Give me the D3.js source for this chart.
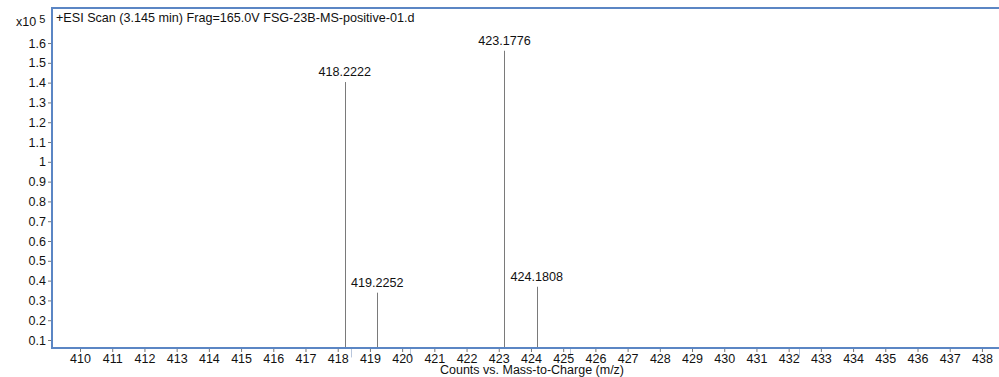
<!DOCTYPE html>
<html>
<head>
<meta charset="utf-8">
<style>
  body { margin: 0; background: #fff; }
  svg text { font-family: "Liberation Sans", Arial, sans-serif; fill: #111; }
</style>
</head>
<body>
<div id="spectrum"></div>
<script src="https://d3js.org/d3.v7.min.js"></script>
<script>
// peak list (m/z, counts in units of 1e5)
var mz = [418.2222, 418.42, 419.2252, 420.23, 423.1776, 424.1808, 425.22, 432.33];
var counts = [1.403, 0.012, 0.339, 0.012, 1.561, 0.369, 0.012, 0.012];
var labelled = ["418.2222", "", "419.2252", "", "423.1776", "424.1808", "", ""];
var xTicks = d3.range(410, 439);
var yTicks = [0.1, 0.2, 0.3, 0.4, 0.5, 0.6, 0.7, 0.8, 0.9, 1, 1.1, 1.2, 1.3, 1.4, 1.5, 1.6];

var width = 999, height = 377;
var plot = {left: 52, top: 8, right: 999, bottom: 348};

var svg = d3.select("#spectrum").append("svg")
    .attr("width", width)
    .attr("height", height);

var x = d3.scaleLinear()
    .domain([409.13, 438.53])
    .range([plot.left, plot.right]);

var y = d3.scaleLinear()
    .domain([0.0596, 1.777])
    .range([plot.bottom, plot.top]);

// sticks
var peaks = mz.map(function(m, i) { return {mz: m, v: counts[i], label: labelled[i]}; });

svg.append("g")
  .selectAll("line")
  .data(peaks)
  .enter().append("line")
    .attr("x1", function(d) { return Math.round(x(d.mz)) + 0.5; })
    .attr("x2", function(d) { return Math.round(x(d.mz)) + 0.5; })
    .attr("y1", y.range()[0])
    .attr("y2", function(d) { return y(d.v); })
    .attr("stroke", function(d) { return d.label ? "#7a7a7a" : "#b8c6dc"; })
    .attr("stroke-width", 1);

svg.append("g")
  .selectAll("text")
  .data(peaks.filter(function(d) { return d.label; }))
  .enter().append("text")
    .attr("x", function(d) { return x(d.mz); })
    .attr("y", function(d) { return y(d.v) - 6; })
    .attr("text-anchor", "middle")
    .style("font-size", "12.6px")
    .text(function(d) { return d.label; });

// axes
var xAxis = svg.append("g")
    .attr("transform", "translate(0," + plot.bottom + ")")
    .call(d3.axisBottom(x).tickValues(xTicks).tickFormat(d3.format("d")).tickSize(4).tickPadding(2));
xAxis.select(".domain").remove();
xAxis.selectAll(".tick line").attr("stroke", "#777");
xAxis.selectAll(".tick text").style("font-size", "12.5px").style("font-family", "Liberation Sans, Arial, sans-serif").attr("fill", "#111");

var yAxis = svg.append("g")
    .attr("transform", "translate(" + plot.left + ",0)")
    .call(d3.axisLeft(y).tickValues(yTicks).tickFormat(d3.format("")).tickSize(4).tickPadding(2));
yAxis.select(".domain").remove();
yAxis.selectAll(".tick line").attr("stroke", "#777");
yAxis.selectAll(".tick text").style("font-size", "12.5px").style("font-family", "Liberation Sans, Arial, sans-serif").attr("fill", "#111");

// frame (left, top, bottom)
svg.append("path")
    .attr("d", "M" + width + "," + plot.top + "H" + plot.left + "V" + plot.bottom + "H" + width)
    .attr("fill", "none")
    .attr("stroke", "#5b86c4")
    .attr("stroke-width", 2);

// titles
svg.append("text")
    .attr("x", plot.left + 4)
    .attr("y", plot.top + 14)
    .style("font-size", "12.6px")
    .text("+ESI Scan (3.145 min) Frag=165.0V FSG-23B-MS-positive-01.d");

var mult = svg.append("text")
    .attr("x", 16)
    .attr("y", 26)
    .style("font-size", "12.5px");
mult.append("tspan").text("x10");
mult.append("tspan").attr("dx", 3).attr("dy", -3).style("font-size", "11px").text("5");

svg.append("text")
    .attr("x", 532)
    .attr("y", 374)
    .attr("text-anchor", "middle")
    .style("font-size", "12.5px")
    .text("Counts vs. Mass-to-Charge (m/z)");
</script>
</body>
</html>
